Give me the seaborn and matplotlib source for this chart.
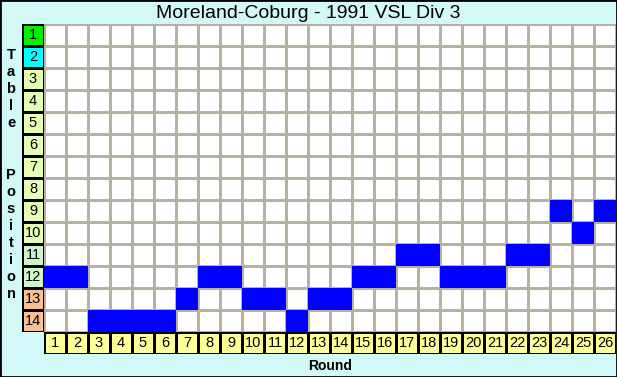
import numpy as np
import pandas as pd
import matplotlib
matplotlib.use("Agg")
import matplotlib.pyplot as plt
from matplotlib.colors import ListedColormap
import seaborn as sns

title = "Moreland-Coburg - 1991 VSL Div 3"
rounds = list(range(1, 27))
positions = [12, 12, 14, 14, 14, 14, 13, 12, 12, 13, 13, 14, 13, 13,
             12, 12, 11, 11, 12, 12, 12, 11, 11, 9, 10, 9]
table_rows = list(range(1, 15))
row_colors = ["#00ee00", "#00ffff"] + ["#e4ffb4"] * 8 + ["#ccf5c8"] * 2 + ["#f8c090"] * 2
round_color = "#ffff99"
bg = "#d2f8f8"
grid_col = "#b8b0a0"
ylabel_text = "Table  Position"

sns.set_theme(style="white")
plt.rcParams['font.family'] = ['Liberation Sans', 'DejaVu Sans']

W, H = 617, 377
fig = plt.figure(figsize=(W / 100, H / 100), dpi=100)
fig.patch.set_facecolor(bg)

def fx(px):
    return px / W

def fy(py):
    return 1 - py / H

x0, x1 = 44, 616
y0, y1 = 24, 332

# main grid
ax = fig.add_axes([fx(x0), fy(y1), fx(x1) - fx(x0), fy(y0) - fy(y1)])
mat = pd.DataFrame(0, index=table_rows, columns=rounds)
for r, p in zip(rounds, positions):
    mat.loc[p, r] = 1
sns.heatmap(mat, cmap=ListedColormap(["white"]), vmin=0, vmax=1, cbar=False,
            linewidths=0.8, linecolor=grid_col, ax=ax)
sns.heatmap(mat, mask=(mat == 0), cmap=ListedColormap(["#0000ff"]), vmin=0, vmax=1,
            cbar=False, linewidths=0, ax=ax)
ax.set_xticks([]); ax.set_yticks([])
ax.set_xlabel(""); ax.set_ylabel("")

# left position column
axl = fig.add_axes([fx(22), fy(y1), fx(44) - fx(22), fy(y0) - fy(y1)])
lmat = pd.DataFrame({"c": list(range(len(table_rows)))}, index=table_rows)
sns.heatmap(lmat, cmap=ListedColormap(row_colors), vmin=-0.5, vmax=len(row_colors) - 0.5,
            cbar=False, linewidths=0.8, linecolor="black", ax=axl,
            annot=np.array([[str(t)] for t in table_rows]), fmt="",
            annot_kws={"color": "black", "fontsize": 10.5})
axl.set_xticks([]); axl.set_yticks([])
axl.set_xlabel(""); axl.set_ylabel("")

# bottom round row
axb = fig.add_axes([fx(x0), fy(354), fx(x1) - fx(x0), fy(332) - fy(354)])
bmat = pd.DataFrame([[0] * len(rounds)], columns=rounds)
sns.heatmap(bmat, cmap=ListedColormap([round_color]), cbar=False,
            linewidths=0.8, linecolor="black", ax=axb,
            annot=np.array([[str(r) for r in rounds]]), fmt="",
            annot_kws={"color": "black", "fontsize": 10.5})
axb.set_xticks([]); axb.set_yticks([])
axb.set_xlabel(""); axb.set_ylabel("")

# title
fig.text(0.5, fy(13), title, ha="center", va="center", fontsize=14, color="black")

# y label stacked letters
for i, ch in enumerate(ylabel_text):
    if ch.strip():
        fig.text(fx(11), fy(55 + i * 17.1), ch, ha="center", va="center",
                 fontsize=10.5, fontweight="bold", color="black")

fig.text(fx(330), fy(366), "Round", ha="center", va="center",
         fontsize=10, fontweight="bold", color="black")

# outer border
fig.add_artist(plt.Rectangle((0, 0), 1, 1, transform=fig.transFigure, fill=False,
                             edgecolor="black", linewidth=2))

fig.savefig("out.png", dpi=100, facecolor=fig.get_facecolor())
